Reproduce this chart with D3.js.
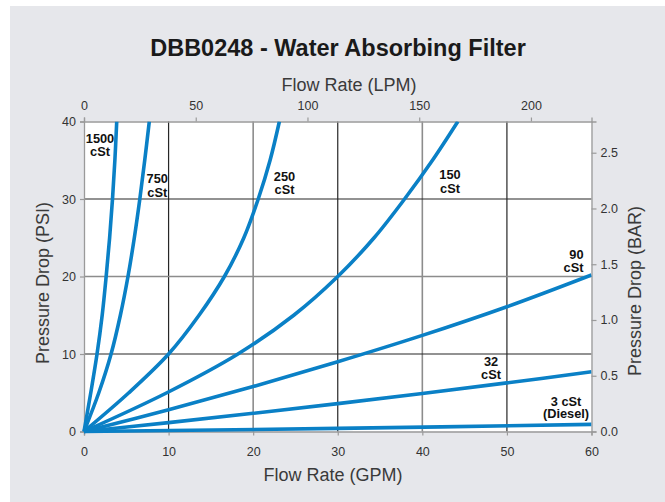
<!DOCTYPE html>
<html>
<head>
<meta charset="utf-8">
<script src="https://cdn.jsdelivr.net/npm/d3@7"></script>
<style>
  html, body { margin: 0; padding: 0; background: #ffffff; }
  svg { display: block; font-family: "Liberation Sans", Arial, Helvetica, sans-serif; }
</style>
</head>
<body>
<svg id="chart" width="665" height="502"></svg>
<script>
// ---- Data ----
const title = "DBB0248 - Water Absorbing Filter";
const xTicksGPM = [0, 10, 20, 30, 40, 50, 60];
const xTicksLPM = [0, 50, 100, 150, 200];
const yTicksPSI = [0, 10, 20, 30, 40];
const yTicksBAR = [0, 0.5, 1.0, 1.5, 2.0, 2.5];
const gpmToLpm = 3.785;
const barMax = 2.78; // bar value at 40 PSI on the right axis

// each series: [flow GPM, pressure PSI]
const cst1500 = [[0,0],[0.8,5],[1.54,10],[2.15,15],[2.62,20],[3.03,25],[3.37,30],[3.65,35],[3.87,40]];
const cst750  = [[0,0],[1.75,5],[3.2,10],[4.3,15],[5.2,20],[5.95,25],[6.6,30],[7.18,35],[7.72,40]];
const cst250  = [[0,0],[5.3,5],[10,10],[13.6,15],[16.6,20],[18.9,25],[20.6,30],[22.0,35],[23.1,40]];
const cst150  = [[0,0],[9.8,5],[18.2,10],[24.8,15],[30,20],[34.3,25],[37.9,30],[41.2,35],[44.2,40]];
const cst90   = [[0,0],[10,2.8],[20,5.8],[30,9.0],[40,12.4],[50,16.1],[60,20.2]];
const cst32   = [[0,0],[10,1.15],[20,2.35],[30,3.6],[40,4.9],[50,6.27],[60,7.7]];
const cst3    = [[0,0],[30,0.4],[60,0.92]];

const seriesData = [cst1500, cst750, cst250, cst150, cst90, cst32, cst3];
const seriesLabels = [["1500","cSt"],["750","cSt"],["250","cSt"],["150","cSt"],["90","cSt"],["32","cSt"],["3 cSt","(Diesel)"]];

// ---- Layout ----
const svg = d3.select("#chart");
const W = 665, H = 502;
const plot = {left: 84, right: 591.5, top: 121.5, bottom: 431.5};
const lineColor = "#0a80c6";

// background panel
svg.append("rect").attr("x", 0).attr("y", 0).attr("width", W).attr("height", H).attr("fill", "#ffffff");
svg.append("rect").attr("x", 10).attr("y", 6).attr("width", W - 10).attr("height", H - 6).attr("fill", "#e6e7eb");

const x = d3.scaleLinear().domain([0, 60]).range([plot.left, plot.right]);
const xL = d3.scaleLinear().domain([0, 60 * gpmToLpm]).range([plot.left, plot.right]);
const y = d3.scaleLinear().domain([0, 40]).range([plot.bottom, plot.top]);
const yB = d3.scaleLinear().domain([0, barMax]).range([plot.bottom, plot.top]);

// plot area
svg.append("rect")
  .attr("x", plot.left).attr("y", plot.top)
  .attr("width", plot.right - plot.left).attr("height", plot.bottom - plot.top)
  .attr("fill", "#ffffff");

// gridlines
const gridDark = "#262626", gridGray = "#8c8c8c";
svg.append("g").selectAll("line")
  .data(xTicksGPM.filter(v => v > 0 && v < 60))
  .join("line")
  .attr("x1", d => x(d)).attr("x2", d => x(d))
  .attr("y1", plot.top).attr("y2", plot.bottom)
  .attr("stroke", d => d % 20 === 0 ? gridGray : gridDark)
  .attr("stroke-width", d => d % 20 === 0 ? 1.6 : 1.2);
svg.append("g").selectAll("line")
  .data(yTicksPSI.filter(v => v > 0 && v < 40))
  .join("line")
  .attr("x1", plot.left).attr("x2", plot.right)
  .attr("y1", d => y(d)).attr("y2", d => y(d))
  .attr("stroke", d => d % 20 === 0 ? gridGray : gridDark)
  .attr("stroke-width", d => d % 20 === 0 ? 1.6 : 1.2);

// axes
function styleAxis(g) {
  g.select(".domain").attr("stroke", "#9a9a9a").attr("stroke-width", 1.3);
  g.selectAll(".tick line").attr("stroke", "#9a9a9a").attr("stroke-width", 1.2);
  g.selectAll(".tick text").attr("fill", "#333333").attr("font-size", "12.5px")
    .attr("font-family", "\"Liberation Sans\", Arial, sans-serif");
}
svg.append("g").attr("transform", `translate(0,${plot.bottom})`)
  .call(d3.axisBottom(x).tickValues(xTicksGPM).tickSizeOuter(0).tickSize(4).tickPadding(12))
  .call(styleAxis);
svg.append("g").attr("transform", `translate(0,${plot.top})`)
  .call(d3.axisTop(xL).tickValues(xTicksLPM).tickSizeOuter(0).tickSize(4).tickPadding(7.5))
  .call(styleAxis);
svg.append("g").attr("transform", `translate(${plot.left},0)`)
  .call(d3.axisLeft(y).tickValues(yTicksPSI).tickSizeOuter(0).tickSize(4).tickPadding(4))
  .call(styleAxis);
svg.append("g").attr("transform", `translate(${plot.right},0)`)
  .call(d3.axisRight(yB).tickValues(yTicksBAR).tickFormat(d3.format(".1f")).tickSizeOuter(0).tickSize(5).tickPadding(4))
  .call(styleAxis);

// clip
svg.append("clipPath").attr("id", "plotclip")
  .append("rect").attr("x", plot.left - 3).attr("y", plot.top)
  .attr("width", plot.right - plot.left + 3).attr("height", plot.bottom - plot.top + 3);

// curves
const line = d3.line().x(d => x(d[0])).y(d => y(d[1])).curve(d3.curveCatmullRom.alpha(0.5));
svg.append("g").attr("clip-path", "url(#plotclip)")
  .selectAll("path").data(seriesData).join("path")
  .attr("d", line)
  .attr("fill", "none")
  .attr("stroke", lineColor)
  .attr("stroke-width", 3.6)
  .attr("stroke-linejoin", "round");

// curve labels (positions are layout, not data)
const labelPos = [
  {x: 100, y: 142.7, dy: 13.5, anchor: "middle"},
  {x: 157.3, y: 182.7, dy: 13.8, anchor: "middle"},
  {x: 284.5, y: 181, dy: 13.3, anchor: "middle"},
  {x: 450, y: 179.3, dy: 13.4, anchor: "middle"},
  {x: 583.5, y: 259, dy: 13.3, anchor: "end"},
  {x: 491, y: 366, dy: 13.2, anchor: "middle"},
  {x: 566, y: 406, dy: 12.3, anchor: "middle"}
];
const lbl = svg.append("g").attr("font-weight", "bold").attr("font-size", "12.8px").attr("fill", "#111111");
seriesLabels.forEach((lines, i) => {
  const p = labelPos[i];
  const t = lbl.append("text").attr("text-anchor", p.anchor);
  lines.forEach((s, j) => {
    t.append("tspan").attr("x", p.x).attr("y", p.y + j * p.dy).text(s);
  });
});

// title
svg.append("text").attr("x", 338).attr("y", 56)
  .attr("text-anchor", "middle").attr("font-weight", "bold").attr("font-size", "23.5px")
  .attr("fill", "#1a1a1a").text(title);

// axis titles
const axTitle = {size: "18px", fill: "#3a3a3a"};
svg.append("text").attr("x", 349).attr("y", 91).attr("text-anchor", "middle")
  .attr("font-size", axTitle.size).attr("fill", axTitle.fill).text("Flow Rate (LPM)");
svg.append("text").attr("x", 333).attr("y", 480.7).attr("text-anchor", "middle")
  .attr("font-size", axTitle.size).attr("fill", axTitle.fill).text("Flow Rate (GPM)");
svg.append("text").attr("transform", "translate(49,283) rotate(-90)").attr("text-anchor", "middle")
  .attr("font-size", axTitle.size).attr("fill", axTitle.fill).text("Pressure Drop (PSI)");
svg.append("text").attr("transform", "translate(641,291) rotate(-90)").attr("text-anchor", "middle")
  .attr("font-size", axTitle.size).attr("fill", axTitle.fill).text("Pressure Drop (BAR)");
</script>
</body>
</html>
